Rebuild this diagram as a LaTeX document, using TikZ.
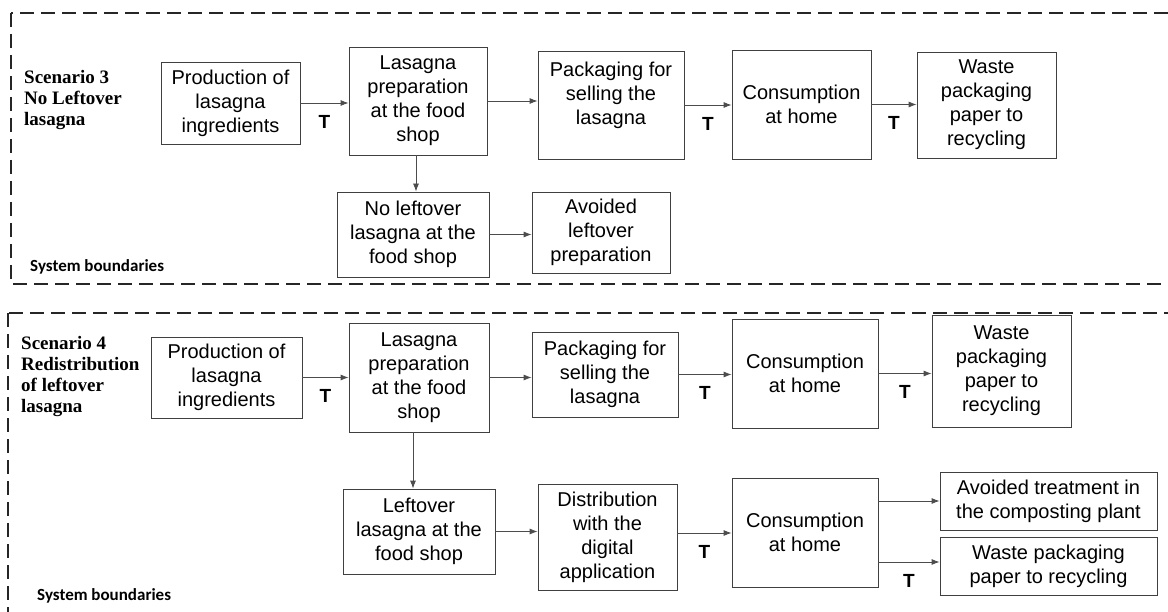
\documentclass[tikz,border=0pt]{standalone}
\usepackage{fontspec}
\newfontfamily\boxfont{Liberation Sans}
\newfontfamily\scenfont{Liberation Serif}
\newfontfamily\sysfont{Carlito}
\usetikzlibrary{arrows.meta}

\begin{document}
\begin{tikzpicture}[x=1pt, y=-1pt,
  procbox/.style={draw=black!75, line width=0.8pt, align=center, inner sep=1pt,
    font=\boxfont\fontsize{20}{24}\selectfont},
  flow/.style={draw=black!70, line width=0.8pt, -{Latex[length=8pt,width=6pt]}},
  tlab/.style={below=12pt, inner sep=0pt, font=\boxfont\bfseries\fontsize{19}{22}\selectfont},
  scen/.style={anchor=north west, align=left, inner sep=0pt,
    font=\scenfont\bfseries\fontsize{19}{21}\selectfont},
  sysb/.style={anchor=west, inner sep=0pt, font=\sysfont\bfseries\fontsize{17}{20}\selectfont},
  boundary/.style={draw=black!85, line width=1.3pt, dash pattern=on 14pt off 7pt}]

\useasboundingbox (0,0) rectangle (1168,612);

% system boundaries
\draw[boundary] (11,13) rectangle (1190,284);
\draw[boundary] (8,313) rectangle (1190,640);

% Scenario 3
\node[scen] (scen3) at (24,70) {Scenario 3\\No Leftover\\lasagna};
\node[sysb] (sys3) at (30,267) {System boundaries};

\node[procbox, minimum width=139, minimum height=82] (prod3) at (230.5,103) {Production of\\lasagna\\ingredients};
\node[procbox, minimum width=138, minimum height=108] (prep3) at (418,101) {Lasagna\\preparation\\at the food\\shop};
\node[procbox, minimum width=146, minimum height=108] (pack3) at (611,105) {Packaging for\\selling the\\lasagna\\\mbox{}};
\node[procbox, minimum width=139, minimum height=109] (cons3) at (801.5,104.5) {Consumption\\at home};
\node[procbox, minimum width=139, minimum height=106] (waste3) at (986.5,105) {Waste\\packaging\\paper to\\recycling};
\node[procbox, minimum width=152, minimum height=85] (nol3) at (413,234.5) {No leftover\\lasagna at the\\food shop};
\node[procbox, minimum width=138, minimum height=81] (avoid3) at (601,232.5) {Avoided\\leftover\\preparation};

\draw[flow] (prod3.east) -- node[tlab] (t31) {T} (prod3.east -| prep3.west);
\draw[flow] (prep3.east) -- (prep3.east -| pack3.west);
\draw[flow] (pack3.east) -- node[tlab] (t32) {T} (pack3.east -| cons3.west);
\draw[flow] (cons3.east) -- node[tlab] (t33) {T} (cons3.east -| waste3.west);
\draw[flow] ([xshift=-2]prep3.south) -- ([xshift=-2]prep3.south |- nol3.north);
\draw[flow] (nol3.east) -- (nol3.east -| avoid3.west);

% Scenario 4
\node[scen] (scen4) at (21,336) {Scenario 4\\Redistribution\\of leftover\\lasagna};
\node[sysb] (sys4) at (37,596) {System boundaries};

\node[procbox, minimum width=151, minimum height=81] (prod4) at (226.5,377.5) {Production of\\lasagna\\ingredients};
\node[procbox, minimum width=140, minimum height=109] (prep4) at (419,377.5) {Lasagna\\preparation\\at the food\\shop};
\node[procbox, minimum width=146, minimum height=85] (pack4) at (605,374.5) {Packaging for\\selling the\\lasagna};
\node[procbox, minimum width=146, minimum height=109] (cons4) at (805,373.5) {Consumption\\at home};
\node[procbox, minimum width=139, minimum height=112] (waste4) at (1001.5,371) {Waste\\packaging\\paper to\\recycling};
\node[procbox, minimum width=152, minimum height=85] (left4) at (419,531.5) {Leftover\\lasagna at the\\food shop};
\node[procbox, minimum width=139, minimum height=106] (dist4) at (607.5,537) {Distribution\\with the\\digital\\application};
\node[procbox, minimum width=146, minimum height=109] (home4) at (805,532.5) {Consumption\\at home};
\node[procbox, minimum width=217, minimum height=58] (avoid4) at (1048.5,501) {Avoided treatment in\\the composting plant};
\node[procbox, minimum width=217, minimum height=58] (paper4) at (1048.5,566) {Waste packaging\\paper to recycling};

\draw[flow] (prod4.east) -- node[tlab] (t41) {T} (prod4.east -| prep4.west);
\draw[flow] (prep4.east) -- (prep4.east -| pack4.west);
\draw[flow] (pack4.east) -- node[tlab] (t42) {T} (pack4.east -| cons4.west);
\draw[flow] (cons4.east) -- node[tlab] (t43) {T} (cons4.east -| waste4.west);
\draw[flow] ([xshift=-6]prep4.south) -- ([xshift=-6]prep4.south |- left4.north);
\draw[flow] (left4.east) -- (left4.east -| dist4.west);
\draw[flow] ([yshift=4]dist4.east) -- node[tlab] (t44) {T} ([yshift=4]dist4.east -| home4.west);
\draw[flow] (home4.east |- avoid4.west) -- (avoid4.west);
\draw[flow] ([yshift=4]home4.east |- paper4.west) -- node[tlab] (t45) {T} ([yshift=4]paper4.west);

\end{tikzpicture}
\end{document}
